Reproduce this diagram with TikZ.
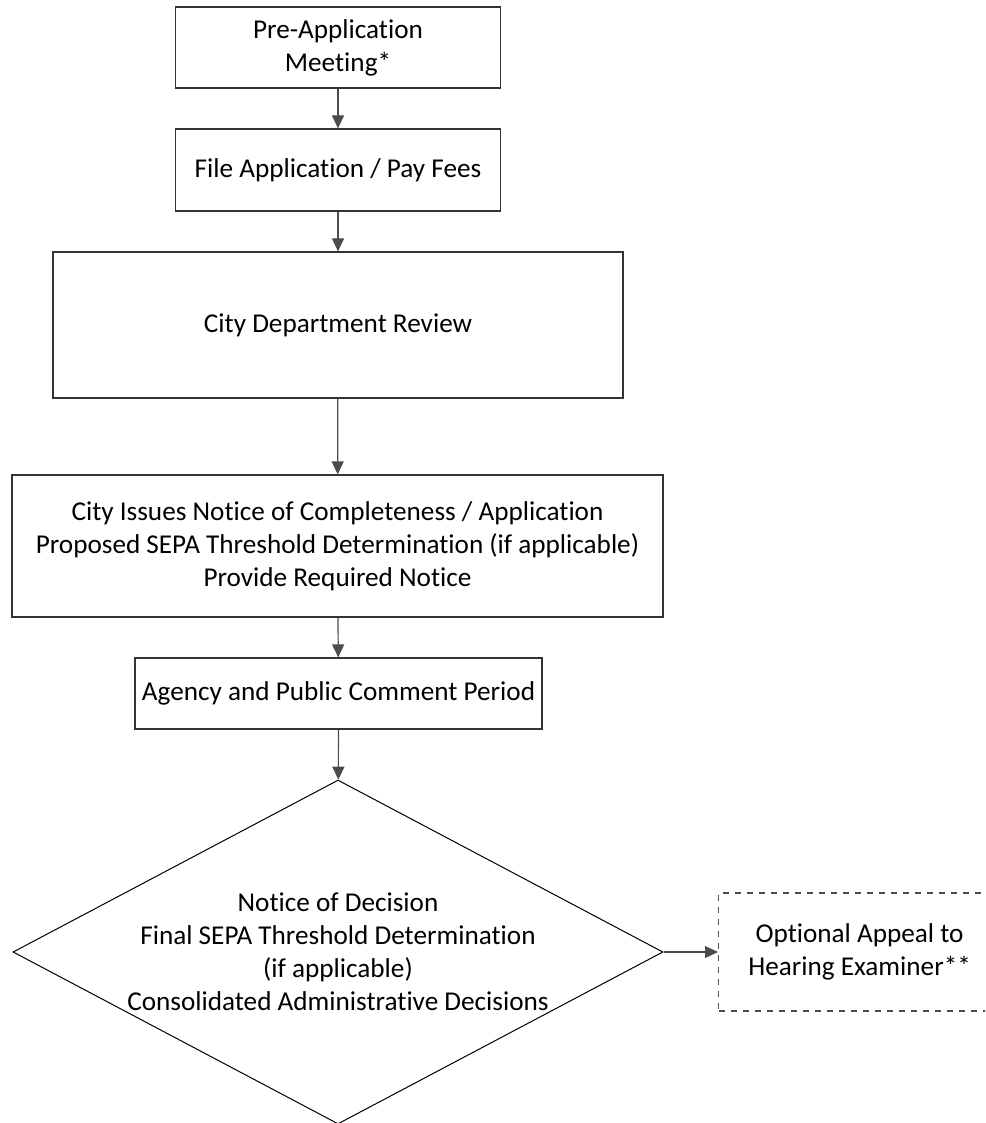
\documentclass[tikz,border=0pt]{standalone}
\usepackage{fontspec}
\setmainfont[Ligatures=NoCommon]{Carlito}
\usetikzlibrary{arrows.meta,shapes.geometric}

\begin{document}
\begin{tikzpicture}[x=0.5pt,y=-0.5pt,
  font=\fontsize{13.6pt}{16.5pt}\selectfont,
  box/.style={draw=black!80, line width=0.6pt, rectangle, align=center, inner sep=0pt},
  flow/.style={draw=black!70, line width=0.6pt, -{Triangle[length=6.5pt,width=6pt]}}]
\clip (0,0) rectangle (985,1123);

\node[box, minimum width=162.5pt, minimum height=40.5pt] (pre) at (338,47.5) {Pre-Application\\Meeting*};
\node[box, minimum width=162.5pt, minimum height=41pt] (fee) at (338,170) {File Application / Pay Fees};
\node[box, minimum width=285pt, minimum height=73pt] (review) at (338,325) {City Department Review};
\node[box, minimum width=325.5pt, minimum height=71pt] (notice) at (337.5,546) {City Issues Notice of Completeness / Application\\Proposed SEPA Threshold Determination (if applicable)\\Provide Required Notice};
\node[box, minimum width=203.5pt, minimum height=35.5pt] (comment) at (338.5,693.5) {Agency and Public Comment Period};
\node[draw, line width=0.5pt, diamond, aspect=1.9, minimum width=325pt, minimum height=172pt, inner sep=0pt] (decision) at (338,952) {};
\node[align=center] (decisiontext) at (338,952) {Notice of Decision\\Final SEPA Threshold Determination\\(if applicable)\\Consolidated Administrative Decisions};
\node[box, dashed, draw=black!70, anchor=west, minimum width=141pt, minimum height=59pt] (appeal) at (718,952) {Optional Appeal to\\Hearing Examiner**};

\path[flow] (pre) -- (fee);
\path[flow] (fee) -- (review);
\path[flow] (review) -- (notice);
\path[flow] (notice) -- (comment);
\path[flow] (comment) -- (decision);
\path[flow] (decision) -- (appeal);
\end{tikzpicture}
\end{document}
